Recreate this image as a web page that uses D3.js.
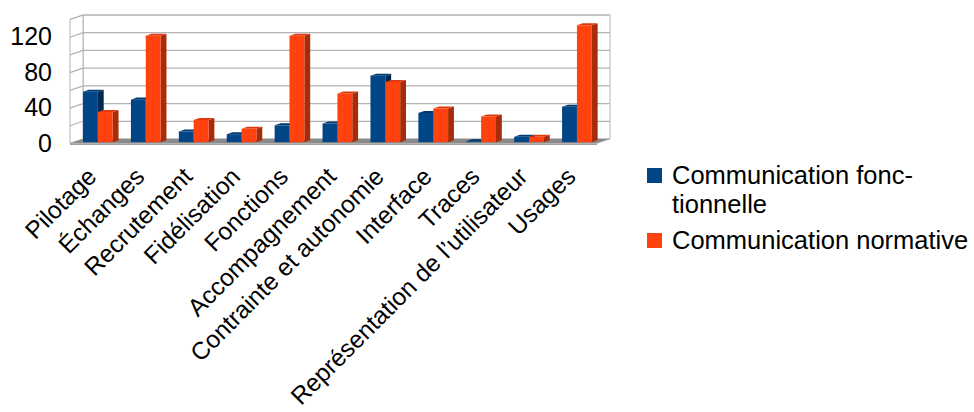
<!DOCTYPE html>
<html>
<head>
<meta charset="utf-8">
<script src="https://cdn.jsdelivr.net/npm/d3@7"></script>
<style>
  body { margin: 0; background: #fff; }
  text { font-family: "Liberation Sans", Arial, sans-serif; fill: #000; }
</style>
</head>
<body>
<svg id="chart" width="974" height="412"></svg>
<script>
const categories = ["Pilotage", "Échanges", "Recrutement", "Fidélisation", "Fonctions",
  "Accompagnement", "Contrainte et autonomie", "Interface", "Traces",
  "Représentation de l’utilisateur", "Usages"];
const fonctionnelle = [57, 48, 12, 9, 19, 21, 75, 33, 1, 6, 40];
const normative = [34, 120, 25, 15, 120, 55, 68, 38, 29, 6, 132];
const seriesNames = ["Communication fonc-\ntionnelle", "Communication normative"];
const yTicks = [0, 40, 80, 120];
const yGrid = [0, 20, 40, 60, 80, 100, 120, 140];

const colors = ["#004586", "#ff420e"];
const sideColors = ["#002a52", "#a82c0a"];
const topColors = ["#003a72", "#e03a0c"];

const svg = d3.select("svg#chart");

// depth offset from front plane to back plane
const DX = 13, DY = -4.5;
const x0 = 70, x1 = 597;

const x = d3.scaleBand().domain(categories).range([x0, x1])
  .paddingInner(0.38).paddingOuter(0.19);
const xs = d3.scaleBand().domain([0, 1]).range([0, x.bandwidth()]);
const y = d3.scaleLinear().domain([0, 140]).range([143.5, 19.5]);

// project front-plane point (px, py) at depth z (0 front, 1 back)
function P(px, py, z) { return [px + DX * z, py + DY * z]; }
function poly(pts) { return pts.map(p => p.join(",")).join(" "); }

const g = svg.append("g");

// back wall
g.append("polygon")
  .attr("points", poly([P(x0, y(140), 1), P(x1, y(140), 1), P(x1, y(0), 1), P(x0, y(0), 1)]))
  .attr("fill", "#fff").attr("stroke", "#b3b3b3").attr("stroke-width", 1);
// left wall
g.append("polygon")
  .attr("points", poly([P(x0, y(140), 0), P(x0, y(140), 1), P(x0, y(0), 1), P(x0, y(0), 0)]))
  .attr("fill", "#fff").attr("stroke", "#b3b3b3").attr("stroke-width", 1);

// grid lines on back and left wall
yGrid.forEach(v => {
  const a = P(x0, y(v), 0), b = P(x0, y(v), 1), c = P(x1, y(v), 1);
  g.append("polyline")
    .attr("points", poly([a, b, c]))
    .attr("fill", "none").attr("stroke", "#b3b3b3").attr("stroke-width", 1.2);
});

// floor
g.append("polygon")
  .attr("points", poly([P(x0, y(0), 0), P(x1, y(0), 0), P(x1, y(0), 1), P(x0, y(0), 1)]))
  .attr("fill", "#8a8a8a");
g.append("polygon")
  .attr("points", poly([P(x0, y(0), 0), P(x1, y(0), 0), P(x1, y(0) + 1.5, 0), P(x0, y(0) + 1.5, 0)]))
  .attr("fill", "#a0a0a0");

// bars
const zA = 0.3, zB = 0.75;
const bars = [];
categories.forEach((c, i) => {
  [fonctionnelle[i], normative[i]].forEach((v, s) => {
    bars.push({ cat: c, s: s, v: v });
  });
});

const bar = g.selectAll("g.bar").data(bars).enter().append("g").attr("class", "bar");
bar.each(function(d) {
  const el = d3.select(this);
  const l = x(d.cat) + xs(d.s), r = l + xs.bandwidth();
  const t = y(d.v), b = y(0);
  // side face
  el.append("polygon")
    .attr("points", poly([P(r, t, zA), P(r, t, zB), P(r, b, zB), P(r, b, zA)]))
    .attr("fill", sideColors[d.s]);
  // top face
  el.append("polygon")
    .attr("points", poly([P(l, t, zA), P(l, t, zB), P(r, t, zB), P(r, t, zA)]))
    .attr("fill", topColors[d.s]);
  // front face
  el.append("polygon")
    .attr("points", poly([P(l, t, zA), P(r, t, zA), P(r, b, zA), P(l, b, zA)]))
    .attr("fill", colors[d.s]);
});

// y labels
g.selectAll("text.ytick").data(yTicks).enter().append("text")
  .attr("class", "ytick")
  .attr("x", 52).attr("y", d => y(d) - 1)
  .attr("dy", "0.36em")
  .attr("text-anchor", "end")
  .style("font-size", "25px")
  .text(d => d);

// x labels
g.selectAll("text.xlab").data(categories).enter().append("text")
  .attr("class", "xlab")
  .attr("text-anchor", "end")
  .style("font-size", "24.5px")
  .attr("transform", d => `translate(${x(d) + x.bandwidth() / 2 + 4},178) rotate(-45)`)
  .text(d => d);

// legend
const legend = svg.append("g").attr("transform", "translate(647,0)");
const legRows = [168, 233];
seriesNames.forEach((name, i) => {
  legend.append("rect")
    .attr("x", 0).attr("y", legRows[i])
    .attr("width", 15).attr("height", 15)
    .attr("fill", colors[i]);
  const t = legend.append("text")
    .attr("x", 25).attr("y", legRows[i] + 15.5)
    .style("font-size", "25.5px");
  name.split("\n").forEach((line, k) => {
    t.append("tspan").attr("x", 25).attr("dy", k === 0 ? 0 : 29).text(line);
  });
});
</script>
</body>
</html>
